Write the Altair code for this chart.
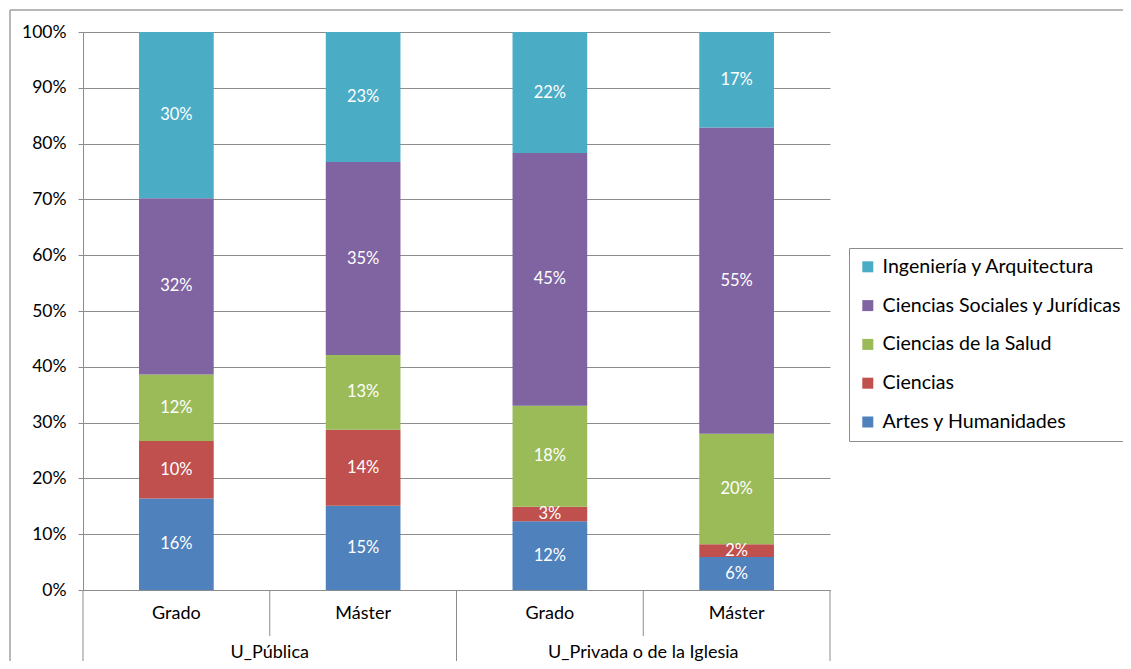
import altair as alt
import pandas as pd

groups = ["U_Pública", "U_Privada o de la Iglesia"]
levels = ["Grado", "Máster", "Grado", "Máster"]
fields = ["Artes y Humanidades", "Ciencias", "Ciencias de la Salud",
          "Ciencias Sociales y Jurídicas", "Ingeniería y Arquitectura"]
artes = [16.4, 15.1, 12.3, 5.9]
ciencias = [10.3, 13.6, 2.6, 2.3]
salud = [11.9, 13.4, 18.1, 19.8]
sociales = [31.6, 34.6, 45.3, 54.9]
ingenieria = [29.8, 23.3, 21.7, 17.1]
colors = ["#4F81BD", "#C0504D", "#9BBB59", "#8064A2", "#4BACC6"]

series = [artes, ciencias, salud, sociales, ingenieria]
rows = []
for j, (f, vals) in enumerate(zip(fields, series)):
    for i, v in enumerate(vals):
        rows.append({"pos": i, "ord": j, "field": f, "value": v / 100})
df = pd.DataFrame(rows)

W, H = 747, 558
FONT = "Lato"
GRID = "#8C8C8C"

legend_order = fields[::-1]
color_range = colors[::-1]

base = alt.Chart(df).transform_stack(
    stack="value", groupby=["pos"], sort=[alt.SortField("ord")], as_=["y0", "y1"]
).transform_calculate(
    xa="datum.pos + 0.3", xb="datum.pos + 0.7", xm="datum.pos + 0.5",
    ym="(datum.y0 + datum.y1) / 2"
)

xscale = alt.Scale(domain=[0, 4], nice=False, zero=False)
yscale = alt.Scale(domain=[0, 1], nice=False)

bars = base.mark_bar().encode(
    x=alt.X("xa:Q", scale=xscale,
            axis=alt.Axis(labels=False, ticks=False, grid=False, title=None,
                          domainColor=GRID)),
    x2="xb:Q",
    y=alt.Y("y0:Q", scale=yscale,
            axis=alt.Axis(format=".0%", values=[i / 10 for i in range(11)],
                          grid=True, gridColor=GRID, domainColor=GRID,
                          tickColor=GRID, tickSize=5, title=None,
                          labelFont=FONT, labelFontSize=17.5, labelColor="#000",
                          labelPadding=12)),
    y2="y1:Q",
    color=alt.Color("field:N",
                    scale=alt.Scale(domain=legend_order, range=color_range),
                    legend=alt.Legend(orient="none", legendX=766, legendY=216,
                                      title=None, strokeColor=GRID, padding=9,
                                      symbolType="square", symbolSize=121,
                                      symbolStrokeWidth=0, labelFont=FONT,
                                      labelFontSize=19.6, labelColor="#000",
                                      rowPadding=17.8, labelLimit=400,
                                      labelOffset=5)),
)

labels = base.mark_text(color="white", font=FONT, fontSize=16.5).encode(
    x=alt.X("xm:Q", scale=xscale),
    y=alt.Y("ym:Q", scale=yscale),
    text=alt.Text("value:Q", format=".0%"),
)

cat_df = pd.DataFrame({"pos": [i + 0.5 for i in range(4)], "level": levels})
cat_text = alt.Chart(cat_df).mark_text(font=FONT, fontSize=18, color="#000").encode(
    x=alt.X("pos:Q", scale=xscale), y=alt.value(582), text="level:N"
)

grp_df = pd.DataFrame({"pos": [1, 3], "group": groups})
grp_text = alt.Chart(grp_df).mark_text(font=FONT, fontSize=18, color="#000").encode(
    x=alt.X("pos:Q", scale=xscale), y=alt.value(621), text="group:N"
)

long_sep = alt.Chart(pd.DataFrame({"p": [0, 2, 4]})).mark_rule(color=GRID).encode(
    x=alt.X("p:Q", scale=xscale), y=alt.value(H), y2=alt.value(629)
)
short_sep = alt.Chart(pd.DataFrame({"p": [1, 3]})).mark_rule(color=GRID).encode(
    x=alt.X("p:Q", scale=xscale), y=alt.value(H), y2=alt.value(604)
)

border_top = alt.Chart(pd.DataFrame({"a": [0]})).mark_rule(color="#A0A0A0", strokeWidth=1.5).encode(
    x=alt.value(-73), x2=alt.value(1040), y=alt.value(-22)
)
border_left = alt.Chart(pd.DataFrame({"a": [0]})).mark_rule(color="#A0A0A0", strokeWidth=1.5).encode(
    x=alt.value(-73), y=alt.value(-22), y2=alt.value(629)
)

chart = alt.layer(
    bars, labels, cat_text, grp_text, long_sep, short_sep, border_top, border_left
).properties(
    width=W, height=H,
    autosize=alt.AutoSizeParams(type="none"),
    padding={"left": 75, "top": 24, "right": 293, "bottom": 71},
).configure_view(stroke=None).configure_axis(gridWidth=1)

chart.save("out.html", embed_options={"renderer": "svg", "actions": False})
